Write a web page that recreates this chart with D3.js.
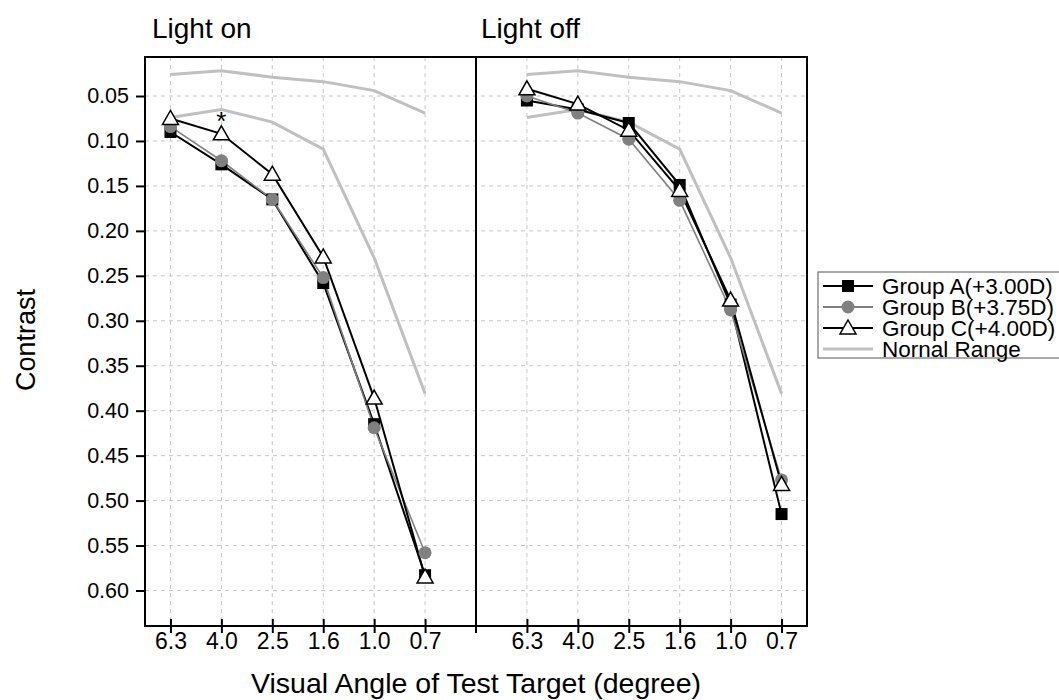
<!DOCTYPE html>
<html>
<head>
<meta charset="utf-8">
<title>Contrast sensitivity</title>
<script src="https://cdn.jsdelivr.net/npm/d3@7"></script>
<style>
  body { margin: 0; background: #fff; }
  svg { font-family: "Liberation Sans", Arial, sans-serif; }
  .grid line { stroke: #c8c8c8; stroke-width: 1; stroke-dasharray: 4,4; }
  .frame { stroke: #000; stroke-width: 2; fill: none; }
  .normal { fill: none; stroke: #c0c0c0; stroke-width: 3; }
</style>
</head>
<body>
<script>
// categories (visual angle, degree)
var cats = ["6.3", "4.0", "2.5", "1.6", "1.0", "0.7"];
var panels = ["Light on", "Light off"];
var yTicks = [0.05, 0.10, 0.15, 0.20, 0.25, 0.30, 0.35, 0.40, 0.45, 0.50, 0.55, 0.60];

// normal range (same in both panels)
var normalUpper = [0.026, 0.022, 0.029, 0.034, 0.044, 0.069];
var normalLower = [0.074, 0.065, 0.079, 0.109, 0.230, 0.381];

// light on
var onA = [0.090, 0.126, 0.165, 0.258, 0.415, 0.583];
var onB = [0.084, 0.122, 0.165, 0.252, 0.419, 0.558];
var onC = [0.075, 0.092, 0.137, 0.229, 0.386, 0.585];
// light off
var offA = [0.055, 0.065, 0.080, 0.149, 0.282, 0.515];
var offB = [0.050, 0.069, 0.098, 0.166, 0.288, 0.477];
var offC = [0.042, 0.059, 0.088, 0.155, 0.277, 0.482];

var groupNames = ["Group A(+3.00D)", "Group B(+3.75D)", "Group C(+4.00D)", "Nornal Range"];

var W = 1059, H = 700;
var pLeft = 145, pRight = 807, pTop = 57, pBottom = 626;

var svg = d3.select("body").append("svg").attr("width", W).attr("height", H);

// one continuous x axis: left panel at 0..5, divider at 6, right panel at 7..12
var x = d3.scaleLinear().domain([-0.5, 12.5]).range([pLeft, pRight]);
var y = d3.scaleLinear().domain([0.0066, 0.6395]).range([pTop, pBottom]);
var divX = x(6);

// GRID
var grid = svg.append("g").attr("class", "grid");
grid.selectAll(".h").data(yTicks).enter().append("line")
  .attr("x1", pLeft).attr("x2", pRight)
  .attr("y1", d => y(d)).attr("y2", d => y(d));
var xPos = d3.range(6).concat(d3.range(7, 13));
grid.selectAll(".v").data(xPos).enter().append("line")
  .attr("x1", d => x(d)).attr("x2", d => x(d))
  .attr("y1", pTop).attr("y2", pBottom);

// FRAME
svg.append("rect").attr("class", "frame")
  .attr("x", pLeft).attr("y", pTop).attr("width", pRight - pLeft).attr("height", pBottom - pTop);
svg.append("line").attr("class", "frame")
  .attr("x1", divX).attr("x2", divX).attr("y1", pTop).attr("y2", pBottom + 7);

// AXES
var yAxis = svg.append("g")
  .attr("transform", "translate(" + pLeft + ",0)")
  .call(d3.axisLeft(y).tickValues(yTicks).tickFormat(d3.format(".2f")).tickSize(9).tickPadding(7));
yAxis.select(".domain").remove();
yAxis.selectAll("line").attr("stroke-width", 2);
yAxis.selectAll("text").attr("font-size", 21.5).attr("font-family", "Liberation Sans, Arial, sans-serif").attr("fill", "#000");

var xAxis = svg.append("g")
  .attr("transform", "translate(0," + pBottom + ")")
  .call(d3.axisBottom(x).tickValues(xPos).tickFormat(d => cats[d % 7]).tickSize(7).tickPadding(0));
xAxis.select(".domain").remove();
xAxis.selectAll("line").attr("y1", -7).attr("stroke-width", 2);
xAxis.selectAll("text").attr("font-size", 23).attr("font-family", "Liberation Sans, Arial, sans-serif").attr("fill", "#000");

// LINES AND MARKERS
var line = d3.line().x(d => x(d.i)).y(d => y(d.v));
function pts(vals, off) { return vals.map((v, i) => ({i: i + off, v: v})); }

[0, 7].forEach(function (off) {
  svg.append("path").datum(pts(normalUpper, off)).attr("class", "normal").attr("d", line);
  svg.append("path").datum(pts(normalLower, off)).attr("class", "normal").attr("d", line);
});

var series = [
  {name: "A", data: [onA, offA], stroke: "#000", width: 2},
  {name: "B", data: [onB, offB], stroke: "#808080", width: 1.6},
  {name: "C", data: [onC, offC], stroke: "#000", width: 2}
];

function marker(g, name, cx, cy) {
  if (name === "A") {
    g.append("rect").attr("x", cx - 6).attr("y", cy - 6).attr("width", 12).attr("height", 12).attr("fill", "#000");
  } else if (name === "B") {
    g.append("circle").attr("cx", cx).attr("cy", cy).attr("r", 6.5).attr("fill", "#808080");
  } else {
    g.append("path").attr("d", "M" + cx + "," + (cy - 8) + "L" + (cx + 8) + "," + (cy + 6) + "L" + (cx - 8) + "," + (cy + 6) + "Z")
      .attr("fill", "#fff").attr("stroke", "#000").attr("stroke-width", 1.5);
  }
}

series.forEach(function (s) {
  s.data.forEach(function (vals, p) {
    svg.append("path").datum(pts(vals, p * 7)).attr("fill", "none")
      .attr("stroke", s.stroke).attr("stroke-width", s.width).attr("d", line);
  });
});
series.forEach(function (s) {
  var g = svg.append("g");
  s.data.forEach(function (vals, p) {
    pts(vals, p * 7).forEach(d => marker(g, s.name, x(d.i), y(d.v)));
  });
});

// asterisk at 4.0, light on
svg.append("text").attr("x", x(1)).attr("y", y(onC[1]) - 4).attr("text-anchor", "middle")
  .attr("font-size", 26).text("*");

// TITLES
svg.append("text").attr("x", pLeft + 7).attr("y", 38).attr("font-size", 28).text(panels[0]);
svg.append("text").attr("x", divX + 5).attr("y", 38).attr("font-size", 28).text(panels[1]);
svg.append("text").attr("transform", "translate(35,340) rotate(-90)").attr("text-anchor", "middle")
  .attr("font-size", 27).text("Contrast");
svg.append("text").attr("x", (pLeft + pRight) / 2).attr("y", 693).attr("text-anchor", "middle")
  .attr("font-size", 28.5).text("Visual Angle of Test Target (degree)");

// LEGEND
var lg = svg.append("g").attr("transform", "translate(818,272)");
lg.append("rect").attr("width", 260).attr("height", 86).attr("fill", "#fff").attr("stroke", "#555").attr("stroke-width", 1);
var legStroke = ["#000", "#808080", "#000", "#c0c0c0"];
var legWidth = [2, 2, 2, 3];
groupNames.forEach(function (name, k) {
  var cy = 14 + k * 21;
  lg.append("line").attr("x1", 5).attr("x2", 55).attr("y1", cy).attr("y2", cy)
    .attr("stroke", legStroke[k]).attr("stroke-width", legWidth[k]);
  if (k < 3) marker(lg, ["A", "B", "C"][k], 30, cy);
  lg.append("text").attr("x", 64).attr("y", cy + 8).attr("font-size", 22.5).text(name);
});
</script>
</body>
</html>
